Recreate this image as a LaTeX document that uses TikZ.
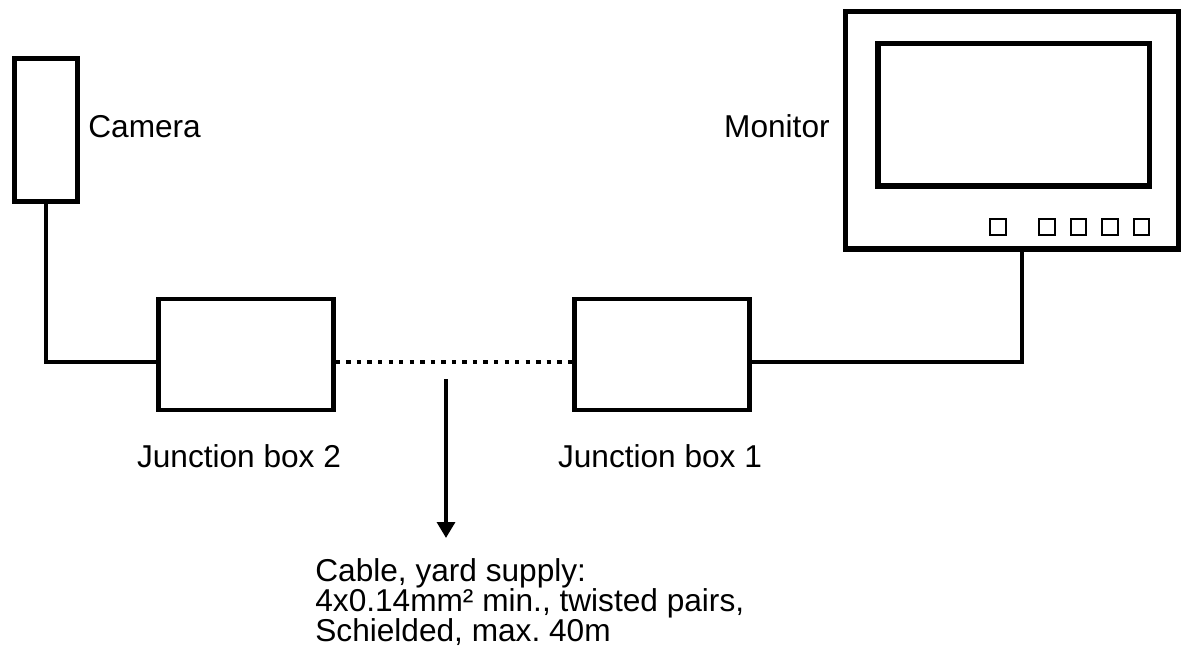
\documentclass[tikz,border=0pt]{standalone}
\usepackage{fontspec}
\setmainfont{Liberation Sans}
\usetikzlibrary{arrows.meta}

\begin{document}
\frenchspacing
\begin{tikzpicture}[x=0.02cm, y=-0.02cm,
    camBox/.style={draw, line width=2.6pt, minimum width=1.27cm, minimum height=2.86cm, inner sep=0pt},
    jbBox/.style={draw, line width=2.7pt, minimum width=3.5cm, minimum height=2.22cm, inner sep=0pt},
    monBox/.style={draw, line width=3pt, minimum width=6.66cm, minimum height=4.75cm, inner sep=0pt},
    monScreen/.style={draw, line width=3.2pt, minimum width=5.43cm, minimum height=2.85cm, inner sep=0pt},
    monBtn/.style={draw, line width=1.3pt, minimum size=0.31cm, inner sep=0pt},
    wire/.style={line width=2.6pt},
    dotWire/.style={line width=2.6pt, dash pattern=on 2.5pt off 3.5pt},
    tapArrow/.style={-{Triangle[width=10pt,length=9pt]}, line width=2.8pt},
    lbl/.style={inner sep=0pt, font=\fontsize{18pt}{17pt}\selectfont}]

    \useasboundingbox (0,0) rectangle (1181,659);

    % devices
    \node[camBox] (cam) at (46,130) {};
    \node[jbBox] (jb2) at (246,354.4) {};
    \node[jbBox] (jb1) at (661.7,354.4) {};
    \node[monBox] (mon) at (1012,130.2) {};
    \node[monScreen] (scr) at (1013.8,114.7) {};
    \foreach \bx [count=\i] in {998,1047,1078.5,1110,1141.5}
        \node[monBtn] (btn\i) at (\bx,227) {};

    % labels
    \node[lbl, anchor=base west] (camLbl) at (88,137) {Camera};
    \node[lbl, anchor=base east] (monLbl) at (830,137) {Monitor};
    \node[lbl, anchor=base] (jb2Lbl) at (239,467) {Junction box 2};
    \node[lbl, anchor=base] (jb1Lbl) at (660,467) {Junction box 1};
    \node[lbl, anchor=north west, align=left] (cableLbl) at (315,558)
        {Cable, yard supply:\\4x0.14mm² min., twisted pairs,\\Schielded, max. 40m};

    % wiring
    \coordinate (jb2L) at ([yshift=-1.52mm]jb2.west);
    \coordinate (jb2R) at ([yshift=-1.52mm]jb2.east);
    \coordinate (jb1L) at ([yshift=-1.52mm]jb1.west);
    \coordinate (jb1R) at ([yshift=-1.52mm]jb1.east);
    \coordinate (monIn) at ([xshift=2mm]mon.south);
    \coordinate (tapTop) at (446,379);
    \coordinate (tapEnd) at (446,538);

    \draw[wire] (cam.south) |- (jb2L);
    \draw[dotWire] (jb2R) -- (jb1L);
    \draw[wire] (jb1R) -| (monIn);
    \draw[tapArrow] (tapTop) -- (tapEnd);
\end{tikzpicture}
\end{document}
